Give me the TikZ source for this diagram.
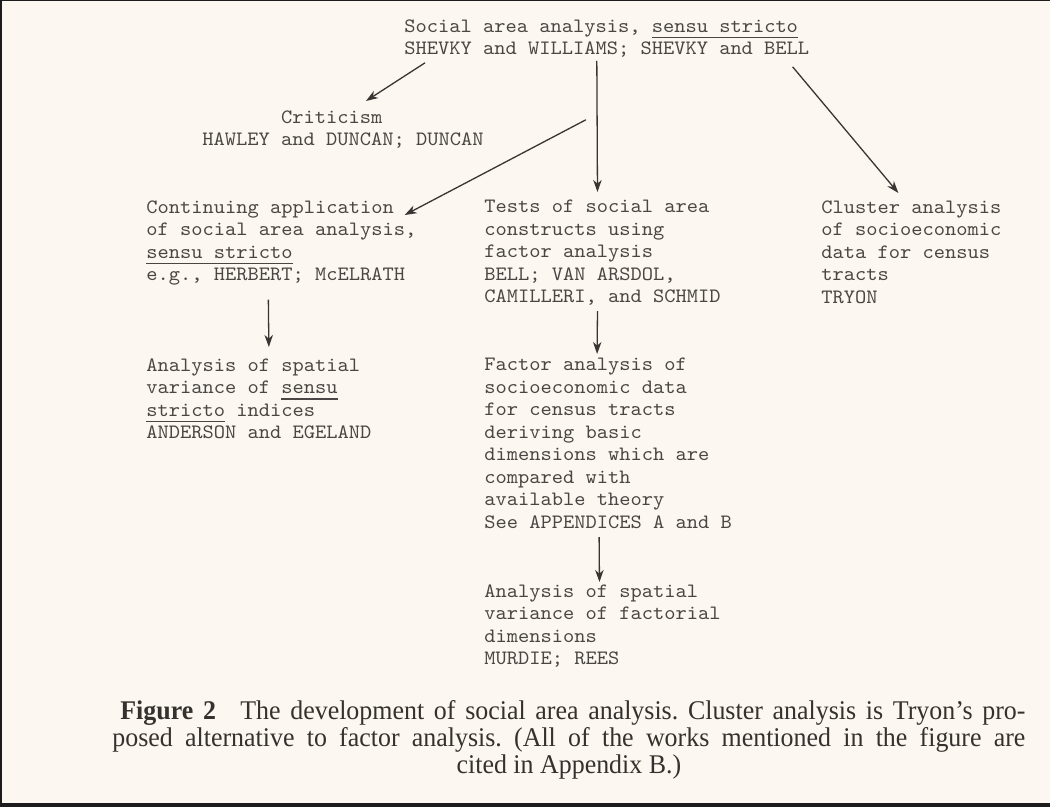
\documentclass[tikz,border=0pt]{standalone}
\usepackage{fontspec}
\setmainfont{Liberation Serif}
\newfontfamily\machine{Latin Modern Mono}[FakeStretch=1.05]
\newfontfamily\legendefont{Liberation Serif}[FakeStretch=0.96,Ligatures=TeX]
\usetikzlibrary{arrows.meta}
\definecolor{papier}{HTML}{FCF7F0}
\definecolor{encre}{HTML}{4A4643}
\definecolor{legende}{HTML}{35312E}
\definecolor{trait}{HTML}{383533}
\definecolor{cadre}{HTML}{1C1C1C}
\newcommand{\souligne}[1]{\setbox0=\hbox{#1}\rlap{\rule[-3pt]{\wd0}{0.6pt}}#1}

\begin{document}
\begin{tikzpicture}[x=0.5pt,y=-0.5pt,
    bloc/.style={anchor=north west,inner sep=0pt,align=left,text=encre,
      font=\machine\fontsize{10.2}{11.25}\selectfont},
    fleche/.style={draw=trait,line width=0.65pt,
      -{Stealth[length=6pt,width=4.2pt,inset=1.8pt]}}]
    % Fond et cadre
    \fill[papier] (0,0) rectangle (1050,807);
    \fill[cadre] (0,0) rectangle (2,807);
    \fill[cadre] (0,0) rectangle (1050,1.5);
    \fill[cadre] (0,803) rectangle (1050,807);
    \useasboundingbox (0,0) rectangle (1050,807);

    % Blocs de texte
    \node[bloc] (src) at (404,19) {Social area analysis, \souligne{sensu stricto}\\SHEVKY and WILLIAMS; SHEVKY and BELL};
    \node[bloc] (crit) at (202,110) {\phantom{1234567}Criticism\\HAWLEY and DUNCAN; DUNCAN};

    \node[bloc] (cont) at (146,200) {Continuing application\\of social area analysis,\\\souligne{sensu stricto}\\e.g., HERBERT; McELRATH};
    \node[bloc] (tests) at (484,200) {Tests of social area\\constructs using\\factor analysis\\BELL; VAN ARSDOL,\\CAMILLERI, and SCHMID};
    \node[bloc] (clust) at (821,200) {Cluster analysis\\of socioeconomic\\data for census\\tracts\\TRYON};

    \node[bloc] (spatl) at (146,358) {Analysis of spatial\\variance of \souligne{sensu}\\\souligne{stricto} indices\\ANDERSON and EGELAND};
    \node[bloc] (factor) at (484,358) {Factor analysis of\\socioeconomic data\\for census tracts\\deriving basic\\dimensions which are\\compared with\\available theory\\See APPENDICES A and B};
    \node[bloc] (spatf) at (484,584) {Analysis of spatial\\variance of factorial\\dimensions\\MURDIE; REES};

    % Fleches
    \draw[fleche] ([xshift=10.5pt,yshift=-2.5pt]src.south west) -- ([xshift=11.5pt,yshift=4.5pt]crit.north);
    \draw[fleche] ([xshift=-5pt,yshift=-1.5pt]src.south) -- ([xshift=-2.5pt,yshift=4pt]tests.north);
    \draw[fleche] ([xshift=-10.5pt,yshift=-31pt]src.south) -- ([xshift=-6pt,yshift=-7.5pt]cont.north east);
    \draw[fleche] ([xshift=-8.5pt,yshift=-4.5pt]src.south east) -- ([xshift=-6.5pt,yshift=3.5pt]clust.north);
    \draw[fleche] ([xshift=-6.5pt,yshift=-7pt]cont.south) -- ([xshift=5pt,yshift=5.5pt]spatl.north);
    \draw[fleche] ([xshift=-2.5pt,yshift=-2.5pt]tests.south) -- ([xshift=-5.5pt,yshift=2pt]factor.north);
    \draw[fleche] ([xshift=-4.5pt,yshift=-4pt]factor.south) -- ([xshift=-1.5pt,yshift=1pt]spatf.north);

    % Legende
    \node[anchor=north west,inner sep=0pt,align=left,text=legende,
      font=\legendefont\fontsize{13.5}{13.5}\selectfont\frenchspacing] (leg) at (112,700)
      {\hspace*{4pt}\makebox[452.5pt][s]{\textbf{Figure 2}\hspace{0.9em}The development of social area analysis. Cluster analysis is Tryon's pro-}\\
       \makebox[456.5pt][s]{posed alternative to factor analysis. (All of the works mentioned in the figure are}\\
       \makebox[456.5pt]{cited in Appendix B.)}};
\end{tikzpicture}
\end{document}
